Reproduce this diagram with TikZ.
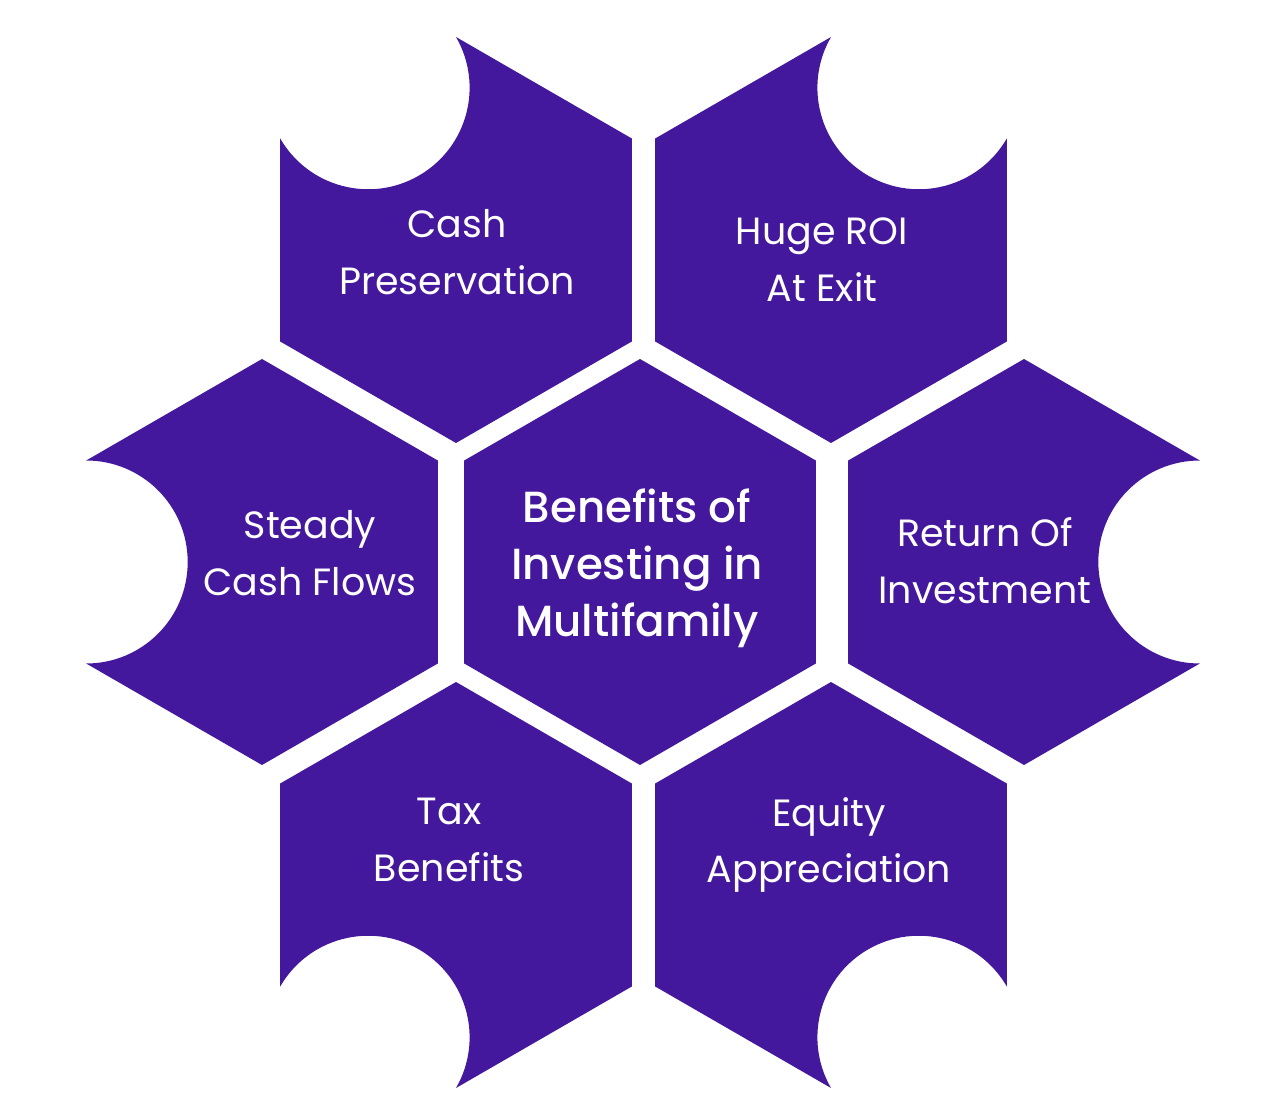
\documentclass[tikz,border=0pt]{standalone}
\usepackage{fontspec}
\setmainfont{Poppins}
\newfontfamily\poppinsmed{Poppins Medium}
\usepackage{xcolor}
\definecolor{hexpurple}{HTML}{43189C}
\usetikzlibrary{positioning}

\begin{document}
\begin{tikzpicture}[x=1cm,y=1cm]
        \useasboundingbox (0,0) rectangle (12.80,11.17);
        %hexagons
        \begin{scope}[hexpurple]
            \fill (6.40,5.55) +(90:2.03) -- +(150:2.03) -- +(210:2.03) -- +(270:2.03) -- +(330:2.03) -- +(30:2.03) -- cycle;
            \foreach \cx/\cy/\dir in {4.56/8.77/120, 8.31/8.77/60, 2.62/5.55/180, 10.24/5.55/0, 4.56/2.32/240, 8.31/2.32/300}
                \fill (\cx,\cy) +(\dir+30:2.03) -- +(\dir+90:2.03) -- +(\dir+150:2.03) -- +(\dir+210:2.03) -- +(\dir+270:2.03) -- +(\dir+330:2.03)
                    arc[start angle=\dir-90, end angle=\dir-270, radius=1.015cm] -- cycle;
        \end{scope}
        
        %labels
        \begin{scope}[every node/.style={text=white,align=center,font=\fontsize{10.8}{16.2}\selectfont}]
            \node (cash) at (4.57,8.65) {Cash\\Preservation};
            \node (roi) at (8.22,8.57) {Huge ROI\\At Exit};
            \node (steady) at (3.10,5.64) {Steady\\Cash Flows};
            \node[font=\poppinsmed\fontsize{12.4}{16.2}\selectfont] (core) at (6.37,5.49) {Benefits of\\Investing in\\Multifamily};
            \node (return) at (9.85,5.56) {Return Of\\Investment};
            \node (tax) at (4.49,2.77) {Tax\\Benefits};
            \node (equity) at (8.29,2.72) {Equity\\Appreciation};
        \end{scope}
\end{tikzpicture}
\end{document}
